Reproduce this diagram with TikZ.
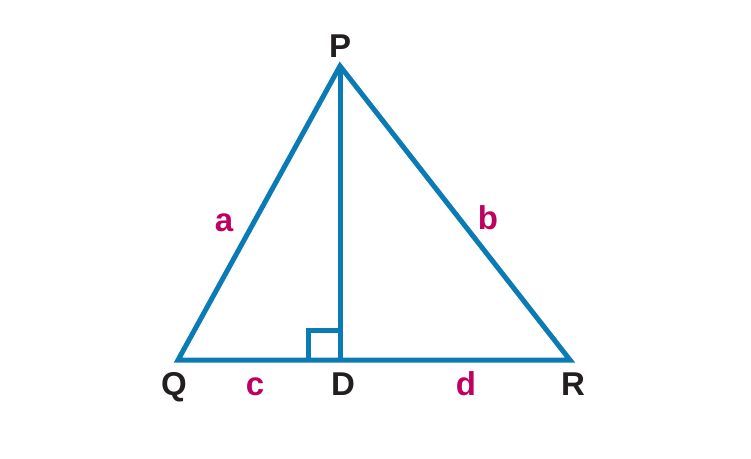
\documentclass[tikz,border=0pt]{standalone}
\usepackage{fontspec}
\setmainfont{Liberation Sans}
\definecolor{triblue}{HTML}{0A7BB5}
\definecolor{lblmag}{HTML}{BF0060}
\definecolor{lbldark}{HTML}{231F20}
\begin{document}
\begin{tikzpicture}[x=1pt,y=-1pt,
  edge/.style={draw=triblue,line width=5pt,line join=miter},
  vlabel/.style={text=lbldark,font=\fontsize{33}{33}\selectfont\bfseries,inner sep=0pt,anchor=base},
  slabel/.style={text=lblmag,font=\fontsize{33}{33}\selectfont\bfseries,inner sep=0pt,anchor=base}]
\useasboundingbox (0,0) rectangle (751,458);
\coordinate (P) at (340,66);
\coordinate (Q) at (178,360);
\coordinate (R) at (570,360);
\coordinate (D) at (340,360);
\coordinate (S1) at (308,360);
\coordinate (S2) at (308,330);
\coordinate (S3) at (340,330);
\draw[edge] (S1) -- (S2) -- (S3);
\draw[edge] (P) -- (D);
\draw[edge] (Q) -- (P) -- (R) -- cycle;
\node[vlabel] (lP) at (340,57) {P};
\node[vlabel] (lQ) at (174,395) {Q};
\node[vlabel] (lD) at (343,395) {D};
\node[vlabel] (lR) at (573,395) {R};
\node[slabel] (la) at (224,231) {a};
\node[slabel] (lb) at (488,229) {b};
\node[slabel] (lc) at (255,395) {c};
\node[slabel] (ld) at (466,395) {d};
\end{tikzpicture}
\end{document}
